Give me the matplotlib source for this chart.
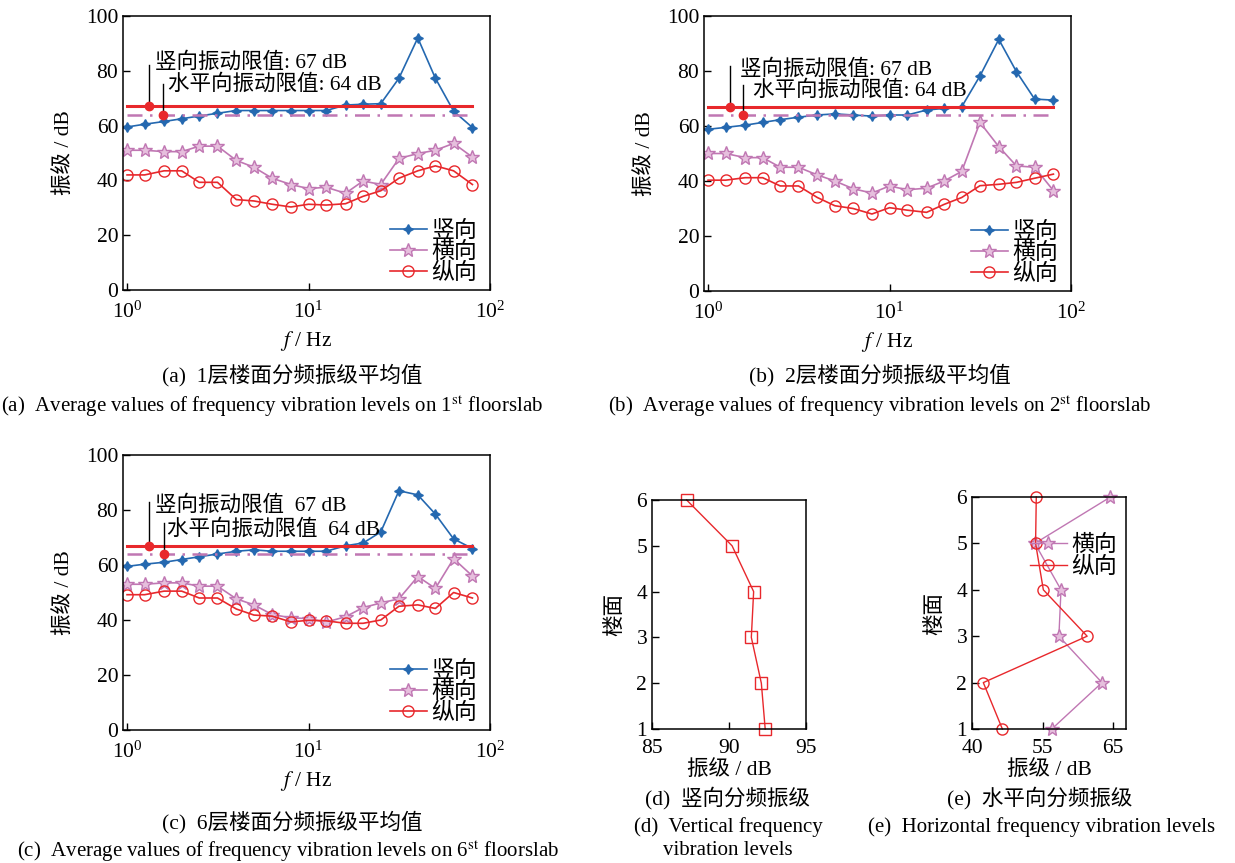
import numpy as np
import matplotlib
matplotlib.use("Agg")
import matplotlib.pyplot as plt

plt.rcParams["font.family"] = ["Liberation Serif", "Noto Sans CJK SC"]
plt.rcParams["mathtext.fontset"] = "stix"
plt.rcParams["axes.unicode_minus"] = False

# 1/3 octave centre frequencies (Hz)
FREQ = [1, 1.25, 1.6, 2, 2.5, 3.15, 4, 5, 6.3, 8, 10, 12.5, 16, 20, 25, 31.5, 40, 50, 63, 80]

# floor 1
F1_VERT = [59.5, 60.5, 61.5, 62.5, 63.5, 64.5, 65.5, 65.5, 65.5, 65.5, 65.5, 65.5, 67.5, 67.8, 68, 77.3, 92, 77.3, 65.3, 59.3]
F1_TRANS = [51, 51, 50.5, 50.5, 52.5, 52.5, 47.3, 44.8, 40.8, 38.5, 37, 37.5, 35.3, 39.8, 38.5, 48, 49.8, 51, 53.5, 48.5]
F1_LONG = [42, 42, 43.5, 43.5, 39.3, 39.3, 33, 32.5, 31.3, 30.3, 31.3, 31, 31.5, 34.2, 36.2, 40.8, 43.5, 45.3, 43.5, 38.5]

# floor 2
F2_VERT = [58.8, 59.5, 60.3, 61.3, 62.3, 63.2, 64, 64.4, 64, 63.6, 64, 64, 65.8, 66.4, 67, 78.2, 91.5, 79.8, 69.8, 69.4]
F2_TRANS = [50, 50, 48.5, 48.5, 45, 45, 42.2, 40, 37.2, 35.6, 38.2, 36.8, 37.4, 40, 43.5, 61.3, 52.5, 45.5, 45, 36.5]
F2_LONG = [40.3, 40.3, 41.2, 41.2, 38.2, 38.2, 34, 31, 30, 28, 30.3, 29.4, 28.6, 31.5, 34, 38.3, 38.8, 39.5, 41, 42.5]

# floor 6
F6_VERT = [59.5, 60.3, 61, 62, 63, 64, 65, 65.5, 65, 65, 65, 65, 67, 68, 72, 87, 85.5, 78.5, 69.5, 66]
F6_TRANS = [53, 53, 53.5, 53.5, 52.3, 52.3, 47.7, 45.5, 42, 40.8, 40.5, 39.2, 41.2, 44.5, 46.2, 47.7, 55.8, 51.5, 62.3, 56]
F6_LONG = [49.2, 49.2, 50.5, 50.5, 48, 48, 44, 41.8, 41.4, 39.3, 39.9, 39.7, 38.8, 38.8, 40, 45, 45.5, 44.2, 50, 48]

# panel (d)/(e): level per floor
FLOORS = [1, 2, 3, 4, 5, 6]
VERT_BY_FLOOR = [92.35, 92.1, 91.45, 91.6, 90.2, 87.25]
TRANS_BY_FLOOR = [56.3, 63.4, 57.3, 57.6, 53.9, 64.6]
LONG_BY_FLOOR = [49.3, 46.6, 61.3, 55.1, 54.0, 54.1]

VERT_LIMIT = 67
HORIZ_LIMIT = 64

BLUE = "#2468b0"
PINK = "#c077b3"
PINK_FILL = "#e6bfdd"
RED = "#e8282c"

W, H = 1235, 863
fig = plt.figure(figsize=(W / 100, H / 100), dpi=100)


def box(l, t, r, b):
    return [l / W, 1 - b / H, (r - l) / W, (b - t) / H]


def style_axes(ax, xpad=5):
    ax.tick_params(direction="in", labelsize=15.5, length=5, width=1, top=False, right=False)
    ax.tick_params(axis="x", pad=xpad)
    ax.tick_params(which="minor", length=0)
    for s in ax.spines.values():
        s.set_linewidth(1.1)


def freq_panel(ax, vert, trans, long_, ann):
    ax.plot(FREQ, vert, color=BLUE, lw=1.2, marker=(4, 1, 0), ms=7, label="竖向")
    ax.plot(FREQ, trans, color=PINK, lw=1.2, marker="*", ms=10, mfc=PINK_FILL, mec=PINK, label="横向")
    ax.plot(FREQ, long_, color=RED, lw=1.2, marker="o", ms=8, mfc="none", mec=RED, label="纵向")
    ax.plot([1, 80], [VERT_LIMIT, VERT_LIMIT], color=RED, lw=2.2)
    ax.plot([1, 80], [HORIZ_LIMIT, HORIZ_LIMIT], color=PINK, lw=1.8, ls=(0, (6, 3, 1, 3)))
    (x1, top1, tx1, ty1, s1), (x2, top2, tx2, ty2, s2) = ann
    ax.plot([x1, x1], [VERT_LIMIT, top1], color="k", lw=1)
    ax.plot([x2, x2], [HORIZ_LIMIT, top2], color="k", lw=1)
    ax.plot([x1], [VERT_LIMIT], "o", color=RED, ms=6)
    ax.plot([x2], [HORIZ_LIMIT], "o", color=RED, ms=6)
    ax.text(tx1, ty1, s1, fontsize=15.5, va="center", ha="left")
    ax.text(tx2, ty2, s2, fontsize=15.5, va="center", ha="left")
    ax.set_xscale("log")
    ax.set_xlim(0.95, 100)
    ax.set_ylim(0, 100)
    ax.set_xticks([1, 10, 100])
    ax.set_yticks(range(0, 101, 20))
    ax.set_xlabel("$f$ / Hz", fontsize=15.5, labelpad=5)
    ax.set_ylabel("振级 / dB", fontsize=15.5, labelpad=8)
    style_axes(ax, xpad=8)
    ax.legend(loc="lower right", frameon=False, fontsize=16.5, handlelength=1.6,
              handletextpad=0.2, labelspacing=0.0, borderaxespad=0.0,
              bbox_to_anchor=(0.99, -0.012))


ax_a = fig.add_axes(box(123, 16, 490, 290))
freq_panel(ax_a, F1_VERT, F1_TRANS, F1_LONG,
           [(1.32, 82, 1.43, 83, "竖向振动限值: 67 dB"),
            (1.58, 75, 1.68, 75, "水平向振动限值: 64 dB")])

ax_b = fig.add_axes(box(704, 16, 1071, 291))
freq_panel(ax_b, F2_VERT, F2_TRANS, F2_LONG,
           [(1.32, 81.7, 1.5, 80.7, "竖向振动限值: 67 dB"),
            (1.56, 74.8, 1.77, 73, "水平向振动限值: 64 dB")])

ax_c = fig.add_axes(box(123, 455, 490, 730))
freq_panel(ax_c, F6_VERT, F6_TRANS, F6_LONG,
           [(1.32, 82.8, 1.43, 81.6, "竖向振动限值  67 dB"),
            (1.6, 75.4, 1.65, 73, "水平向振动限值  64 dB")])

# panel (d)
ax_d = fig.add_axes(box(652, 500, 806, 729))
ax_d.plot(VERT_BY_FLOOR, FLOORS, color=RED, lw=1, marker="s", ms=8, mfc="none", mec=RED, clip_on=False)
ax_d.set_xlim(85, 95)
ax_d.set_ylim(1, 6)
ax_d.set_xticks([85, 90, 95])
ax_d.set_yticks(FLOORS)
ax_d.set_xlabel("振级 / dB", fontsize=15.5, labelpad=2)
ax_d.set_ylabel("楼面", fontsize=15.5, labelpad=8)
style_axes(ax_d, xpad=7)

# panel (e)
ax_e = fig.add_axes(box(972, 497, 1126, 729))
ax_e.plot(TRANS_BY_FLOOR, FLOORS, color=PINK, lw=1, marker="*", ms=10, mfc=PINK_FILL, mec=PINK, label="横向", clip_on=False)
ax_e.plot(LONG_BY_FLOOR, FLOORS, color=RED, lw=1, marker="o", ms=8, mfc="none", mec=RED, label="纵向", clip_on=False)
ax_e.set_xlim(45, 66.8)
ax_e.set_ylim(1, 6)
ax_e.set_xticks([45, 55, 65])
ax_e.set_xticklabels(["40", "55", "65"])
ax_e.set_yticks(FLOORS)
ax_e.set_xlabel("振级 / dB", fontsize=15.5, labelpad=2)
ax_e.set_ylabel("楼面", fontsize=15.5, labelpad=8)
style_axes(ax_e, xpad=7)
ax_e.legend(loc="upper right", frameon=False, fontsize=16.5, handlelength=1.6,
            handletextpad=0.2, labelspacing=0.0, borderaxespad=0.0,
            bbox_to_anchor=(1.0, 0.875))

# captions
cap = dict(fontsize=15, ha="center", va="center")
cap_cn = dict(fontsize=15.5, ha="center", va="center")
fig.text(292 / W, 1 - 375 / H, "(a)  1层楼面分频振级平均值", **cap_cn)
fig.text(272 / W, 1 - 406 / H, r"(a)  Average values of frequency vibration levels on 1$^{\rm st}$ floorslab", **cap)
fig.text(880 / W, 1 - 375 / H, "(b)  2层楼面分频振级平均值", **cap_cn)
fig.text(880 / W, 1 - 406 / H, r"(b)  Average values of frequency vibration levels on 2$^{\rm st}$ floorslab", **cap)
fig.text(292 / W, 1 - 822 / H, "(c)  6层楼面分频振级平均值", **cap_cn)
fig.text(288 / W, 1 - 851 / H, r"(c)  Average values of frequency vibration levels on 6$^{\rm st}$ floorslab", **cap)
fig.text(728 / W, 1 - 798 / H, "(d)  竖向分频振级", **cap_cn)
fig.text(728 / W, 1 - 827 / H, "(d)  Vertical frequency", **cap)
fig.text(728 / W, 1 - 850 / H, "vibration levels", **cap)
fig.text(1040 / W, 1 - 798 / H, "(e)  水平向分频振级", **cap_cn)
fig.text(1042 / W, 1 - 827 / H, "(e)  Horizontal frequency vibration levels", **cap)

fig.savefig("out.png", dpi=100)
